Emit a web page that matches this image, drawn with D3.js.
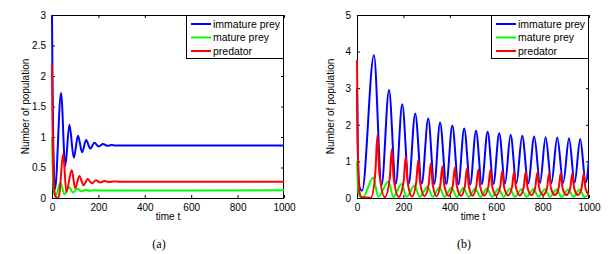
<!DOCTYPE html>
<html>
<head>
<meta charset="utf-8">
<script src="https://cdn.jsdelivr.net/npm/d3@7"></script>
<style>
  body { margin: 0; background: #fff; }
  svg { display: block; }
</style>
</head>
<body>
<div id="chart"></div>
<script>
// series names and colours
const seriesNames = ['immature prey', 'mature prey', 'predator'];
const seriesColors = ['#0000ff', '#00ff00', '#ff0000'];

// ticks
const xTicks = [0, 200, 400, 600, 800, 1000];
const yTicksA = [0, 0.5, 1, 1.5, 2, 2.5, 3];
const yTicksB = [0, 1, 2, 3, 4, 5];

// panel (a): [time, value]
const immatureA = [[0,3.0],[2,2.0],[5,1.0],[8,0.5],[13,0.15],[39,1.72],[57,0.52],[75,1.2],[94,0.66],
  [112,1.02],[130,0.75],[147,0.95],[165,0.81],[183,0.905],[201,0.845],[220,0.885],[238,0.855],
  [256,0.868],[275,0.86],[300,0.862],[1000,0.862]];
const matureA = [[0,1.0],[3,0.5],[7,0.15],[12,0.04],[18,0.05],[36,0.25],[54,0.06],[73,0.18],[91,0.09],
  [109,0.15],[127,0.11],[145,0.135],[163,0.118],[181,0.128],[200,0.124],[1000,0.126]];
const predatorA = [[0,2.2],[2,1.3],[5,0.55],[9,0.18],[14,0.04],[22,0.0],[30,0.03],[48,0.72],[62,0.1],
  [85,0.46],[100,0.16],[118,0.36],[136,0.21],[154,0.31],[172,0.24],[190,0.29],[208,0.255],
  [226,0.277],[245,0.264],[265,0.27],[290,0.268],[1000,0.268]];

// panel (b)
const immatureB = [[0,3.0],[3,1.5],[7,0.55],[12,0.28],[22,0.2],[73,3.9],[106,0.35],[138,2.95],[167,0.38],
  [195,2.56],[223,0.39],[251,2.31],[279,0.39],[307,2.17],[333,0.38],[358,2.06],[385,0.38],
  [411,1.98],[437,0.37],[462,1.9],[488,0.37],[513,1.84],[538,0.38],[563,1.81],[588,0.38],
  [613,1.77],[638,0.39],[662,1.73],[687,0.4],[712,1.7],[738,0.4],[764,1.68],[789,0.41],
  [813,1.66],[838,0.41],[863,1.65],[889,0.42],[914,1.63],[938,0.42],[962,1.61],[986,0.42],[1000,1.07]];
const matureB = [[0,1.0],[3,0.45],[7,0.12],[14,0.03],[25,0.02],[70,0.56],[92,0.03],[135,0.45],[157,0.03],
  [192,0.38],[214,0.03],[248,0.34],[270,0.03],[304,0.31],[326,0.03],[355,0.29],[377,0.03],
  [408,0.28],[430,0.03],[459,0.27],[481,0.03],[510,0.26],[532,0.03],[560,0.26],[582,0.03],
  [610,0.25],[632,0.03],[659,0.25],[681,0.03],[709,0.24],[731,0.03],[761,0.24],[783,0.03],
  [810,0.24],[832,0.03],[860,0.23],[882,0.03],[911,0.23],[933,0.03],[959,0.23],[981,0.03],[1000,0.12]];
const predatorB = [[0,3.77],[3,1.6],[7,0.5],[12,0.12],[20,0.02],[60,0.01],
  [79,0.69],[88,1.72],[96,0.69],[120,0.02],[141,0.53],[150,1.33],[158,0.53],[180,0.03],
  [201,0.45],[210,1.13],[218,0.45],[237,0.04],[255,0.42],[264,1.04],[272,0.42],[291,0.05],
  [309,0.38],[318,0.94],[326,0.38],[343,0.05],[359,0.35],[368,0.87],[376,0.35],[395,0.06],
  [413,0.34],[422,0.84],[430,0.34],[448,0.06],[465,0.32],[474,0.81],[482,0.32],[498,0.06],
  [514,0.31],[523,0.78],[531,0.31],[549,0.07],[566,0.31],[575,0.77],[583,0.31],[600,0.07],
  [617,0.3],[626,0.74],[634,0.3],[651,0.07],[668,0.29],[677,0.72],[685,0.29],[702,0.07],
  [718,0.28],[727,0.71],[735,0.28],[752,0.08],[768,0.28],[777,0.69],[785,0.28],[802,0.08],
  [819,0.27],[828,0.68],[836,0.27],[853,0.08],[869,0.27],[878,0.67],[886,0.27],[903,0.08],
  [919,0.27],[928,0.67],[936,0.27],[952,0.08],[968,0.26],[977,0.66],[985,0.26],[1000,0.08]];

const sansFont = '"Liberation Sans", Arial, sans-serif';
const serifFont = '"Liberation Serif", "Times New Roman", serif';

const svg = d3.select('#chart')
  .append('svg')
  .attr('width', 613)
  .attr('height', 254)
  .style('font-family', sansFont);

function drawPanel(opts) {
  const { left, top, width, height, yMax, yTicks, series, caption, id } = opts;

  const x = d3.scaleLinear().domain([0, 1000]).range([0, width]);
  const y = d3.scaleLinear().domain([0, yMax]).range([height, 0]);

  const g = svg.append('g').attr('transform', `translate(${left},${top})`);

  // clip a little wider than the box so the t=0 drop is fully visible
  g.append('clipPath').attr('id', id)
    .append('rect').attr('x', -1.5).attr('y', -1)
    .attr('width', width + 1.5).attr('height', height + 1);

  // axes (inward ticks on all four sides, MATLAB style)
  const tickLen = 3;
  const fmt = (d) => String(d);
  const axB = g.append('g').attr('transform', `translate(0,${height})`)
    .call(d3.axisBottom(x).tickValues(xTicks).tickSize(-tickLen).tickPadding(6).tickFormat(fmt));
  const axT = g.append('g')
    .call(d3.axisTop(x).tickValues(xTicks).tickSize(-tickLen).tickFormat(''));
  const axL = g.append('g')
    .call(d3.axisLeft(y).tickValues(yTicks).tickSize(-tickLen).tickPadding(6).tickFormat(fmt));
  const axR = g.append('g').attr('transform', `translate(${width},0)`)
    .call(d3.axisRight(y).tickValues(yTicks).tickSize(-tickLen).tickFormat(''));
  [axB, axT, axL, axR].forEach((a) => {
    a.select('.domain').attr('stroke', '#000').attr('stroke-width', 1);
    a.selectAll('.tick line').attr('stroke', '#000');
    a.selectAll('text').attr('font-size', 10).attr('fill', '#000').attr('font-family', sansFont);
  });
  axB.selectAll('.domain').attr('d', `M0,0.5H${width}`);
  axT.selectAll('.domain').attr('d', `M0,0.5H${width}`);
  axL.selectAll('.domain').attr('d', `M0.5,0V${height}`);
  axR.selectAll('.domain').attr('d', `M-0.5,0V${height}`);

  const line = d3.line()
    .x((d) => x(d[0]))
    .y((d) => y(d[1]))
    .curve(d3.curveMonotoneX);

  // series lines
  const lines = g.append('g').attr('clip-path', `url(#${id})`);
  series.forEach((s, i) => {
    lines.append('path')
      .datum(s)
      .attr('fill', 'none')
      .attr('stroke', seriesColors[i])
      .attr('stroke-width', 2)
      .attr('d', line);
  });

  // legend
  const legW = 98, legH = 44;
  const leg = g.append('g').attr('transform', `translate(${width - legW},0)`);
  leg.append('rect')
    .attr('x', 0.5).attr('y', 0.5)
    .attr('width', legW - 1).attr('height', legH - 1)
    .attr('fill', '#fff').attr('stroke', '#000');
  seriesNames.forEach((name, i) => {
    const yy = 9 + i * 13.5;
    leg.append('line')
      .attr('x1', 5).attr('x2', 25)
      .attr('y1', yy).attr('y2', yy)
      .attr('stroke', seriesColors[i]).attr('stroke-width', 2);
    leg.append('text')
      .attr('x', 27).attr('y', yy + 3.5)
      .attr('font-size', 10.5)
      .text(name);
  });

  // axis labels
  g.append('text')
    .attr('transform', `translate(${-23},${height / 2}) rotate(-90)`)
    .attr('text-anchor', 'middle')
    .attr('font-size', 10)
    .text('Number of population');
  g.append('text')
    .attr('x', width / 2).attr('y', height + 22)
    .attr('text-anchor', 'middle')
    .attr('font-size', 10)
    .text('time t');

  // caption
  svg.append('text')
    .attr('x', left + width / 2 - 9).attr('y', 248)
    .attr('text-anchor', 'middle')
    .style('font-family', serifFont)
    .attr('font-size', 12)
    .text(caption);
}

drawPanel({
  id: 'clipA', left: 52, top: 15, width: 232, height: 183,
  yMax: 3, yTicks: yTicksA,
  series: [immatureA, matureA, predatorA], caption: '(a)'
});
drawPanel({
  id: 'clipB', left: 357, top: 15, width: 232, height: 183,
  yMax: 5, yTicks: yTicksB,
  series: [immatureB, matureB, predatorB], caption: '(b)'
});
</script>
</body>
</html>
